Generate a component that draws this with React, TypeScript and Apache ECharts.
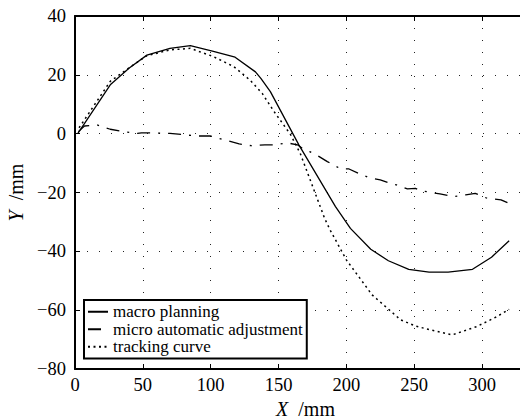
import React, { useEffect, useRef } from "react";
import * as echarts from "echarts";

const macroX = [2, 26, 40, 53, 70, 85, 102, 118, 133, 137, 144, 165, 192, 203, 218, 231, 246, 261, 275, 293, 307, 320];
const macroY = [0, 16.6, 22.3, 26.7, 29, 29.9, 28, 26, 21, 18.8, 14.3, -3.8, -24.8, -32.2, -39.3, -43.2, -46.1, -47.1, -47.1, -46.1, -42, -36.4];

const microX = [2.5, 7, 16, 26, 36, 46, 49, 70, 90, 100, 121, 130, 140, 148, 156, 164, 169, 173, 180, 186, 192, 196, 202, 209, 217, 225, 234, 237, 245, 251, 255, 269, 279, 288, 295, 304, 314, 320];
const microY = [0.7, 2.6, 3, 1.5, 0.7, 0.1, 0.3, 0.1, -0.8, -0.8, -3.5, -4.1, -3.8, -3.8, -3.1, -3.8, -5.5, -6.1, -7.8, -9.5, -11, -12, -12, -13.5, -15, -15.7, -17.1, -17.4, -18.8, -18.6, -19.4, -20.5, -21.4, -20.8, -20.3, -22, -22.5, -23.7];

const trackX = [3, 26, 43, 53, 70, 85, 102, 117, 129, 138, 146, 159, 166, 184, 188, 200, 219, 240, 251, 262, 278, 296, 311, 320];
const trackY = [2, 17.8, 23.4, 26.5, 28.5, 29, 26.2, 22.8, 18.2, 13.7, 8, -0.4, -6.7, -28.8, -32.7, -42.9, -54.8, -63.3, -65.4, -66.7, -68.4, -65.6, -62.2, -59.7];

const seriesNames = ["macro planning", "micro automatic adjustment", "tracking curve"];
const xTicks = [0, 50, 100, 150, 200, 250, 300];
const yTicks = [-80, -60, -40, -20, 0, 20, 40];

const FONT = "Liberation Serif";

function pairs(xs: number[], ys: number[]) {
  return xs.map((x, i) => [x, ys[i]]);
}

export default function App() {
  const ref = useRef<HTMLDivElement>(null);
  useEffect(() => {
    document.body.style.margin = "0";
    if (!ref.current) return;
    const chart = echarts.init(ref.current, null, { renderer: "svg" });
    const gridDots = { show: true, showMinLine: false, showMaxLine: false, lineStyle: { color: "#222", width: 1, type: [1, 11] as any } };
    chart.setOption({
      animation: false,
      backgroundColor: "#fff",
      textStyle: { fontFamily: FONT },
      grid: { left: 75, right: 0, top: 16, bottom: 50, outerBoundsMode: "none", containLabel: false },
      legend: {
        orient: "vertical",
        left: 84,
        top: 300,
        padding: [3, 4, 3, 3],
        itemWidth: 20,
        itemHeight: 14,
        itemGap: 0,
        borderColor: "#000",
        borderWidth: 2,
        backgroundColor: "#fff",
        borderRadius: 0,
        data: seriesNames,
        itemStyle: { opacity: 0 },
        textStyle: { fontFamily: FONT, fontSize: 17, color: "#000", lineHeight: 17.5 },
      },
      xAxis: [
        {
          type: "value",
          min: 0,
          max: 328,
          interval: 50,
          position: "bottom",
          name: "{i|X}  /mm",
          nameLocation: "middle",
          nameGap: 22,
          nameTextStyle: {
            fontFamily: FONT,
            fontSize: 20,
            color: "#000",
            padding: [0, 0, 0, 16],
            rich: { i: { fontStyle: "italic", fontFamily: FONT, fontSize: 20, color: "#000" } },
          },
          axisLine: { show: true, onZero: false, lineStyle: { color: "#000", width: 2 } },
          axisTick: { show: true, inside: true, length: 5, lineStyle: { color: "#000", width: 1 } },
          axisLabel: {
            margin: 6,
            fontFamily: FONT,
            fontSize: 18.5,
            color: "#000",
            showMaxLabel: false,
            formatter: (v: number) => (xTicks.includes(v) ? String(v) : ""),
          },
          splitLine: gridDots,
        },
        {
          type: "value",
          min: 0,
          max: 328,
          interval: 50,
          position: "top",
          axisLine: { show: true, onZero: false, lineStyle: { color: "#000", width: 2 } },
          axisTick: { show: true, inside: true, length: 5, lineStyle: { color: "#000", width: 1 } },
          axisLabel: { show: false },
          splitLine: { show: false },
        },
      ],
      yAxis: {
        type: "value",
        min: -80,
        max: 40,
        interval: 20,
        name: "{i|Y}  /mm",
        nameLocation: "middle",
        nameRotate: 90,
        nameGap: 45,
        nameTextStyle: {
          fontFamily: FONT,
          fontSize: 20,
          color: "#000",
          rich: { i: { fontStyle: "italic", fontFamily: FONT, fontSize: 20, color: "#000" } },
        },
        axisLine: { show: true, onZero: false, lineStyle: { color: "#000", width: 2 } },
        axisTick: { show: true, inside: true, length: 5, lineStyle: { color: "#000", width: 1 } },
        axisLabel: {
          margin: 9,
          fontFamily: FONT,
          fontSize: 18.5,
          color: "#000",
          formatter: (v: number) => (yTicks.includes(v) ? String(v).replace("-", "\u2212") : ""),
        },
        splitLine: gridDots,
      },
      series: [
        {
          name: seriesNames[0],
          type: "line",
          data: pairs(macroX, macroY),
          symbol: "none",
          lineStyle: { color: "#000", width: 1.3, type: "solid" },
          itemStyle: { color: "#000" },
        },
        {
          name: seriesNames[1],
          type: "line",
          data: pairs(microX, microY),
          symbol: "none",
          lineStyle: { color: "#000", width: 1.3, type: [13, 8, 2, 8] },
          itemStyle: { color: "#000" },
        },
        {
          name: seriesNames[2],
          type: "line",
          data: pairs(trackX, trackY),
          symbol: "none",
          lineStyle: { color: "#000", width: 1.5, type: [2, 3.5] },
          itemStyle: { color: "#000" },
        },
      ],
    });
    return () => chart.dispose();
  }, []);
  return <div ref={ref} style={{ width: 520, height: 419 }} />;
}
